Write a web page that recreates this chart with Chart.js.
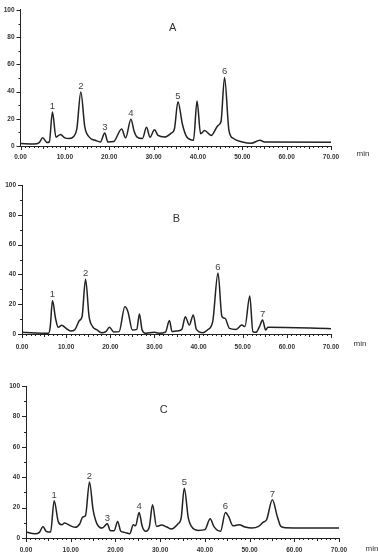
<!DOCTYPE html>
<html><head><meta charset="utf-8">
<script src="https://cdn.jsdelivr.net/npm/chart.js@4.4.1/dist/chart.umd.min.js"></script>
<style>
html,body{margin:0;padding:0;background:#fff;width:378px;height:555px;overflow:hidden;}
.p{position:absolute;left:0;width:378px;}
</style></head><body>
<div class="p" style="top:0;height:165px"><canvas id="cA"></canvas></div>
<div class="p" style="top:170px;height:190px"><canvas id="cB"></canvas></div>
<div class="p" style="top:370px;height:185px"><canvas id="cC"></canvas></div>
<script>
// ---- data (time in min, response) ----
const xTickLabels = ['0.00','10.00','20.00','30.00','40.00','50.00','60.00','70.00'];
const yTickLabels = ['0','20','40','60','80','100'];

const timeA = [0,3,4.2,5,6,6.5,7.2,8,9,10,11,12,12.7,13.6,14.5,15.5,17,18,19,19.7,21,22.8,23.7,24.9,25.6,26.3,27.5,28.4,29.2,30.2,31,32.5,34,34.7,35.5,36.5,37.5,39,39.8,40.6,41.5,43,44.5,45.2,46,47,48,50,52,54,55,70];
const valA  = [1.9,1.5,2.5,6,2.5,3,25,6.5,8.5,6,5.5,7,12.5,39.7,14,6.5,4,3,9.5,3,3.3,12.5,6,19.6,11,6.5,5.5,13.7,6.5,12,7.8,6.6,9.5,12.5,32.6,16,6.6,4.3,33,9,11.3,7.8,15,18,50.4,11.3,5.5,3,2,4.3,3,2.8];
const peakNumA = ['1','2','3','4','5','6'];
const peakTimeA = [7.2,13.6,19,24.9,35.5,46];
const peakValA = [25,39.7,9.5,19.6,32.6,50.4];

const timeB = [0,6,6.4,6.9,7.6,8.2,9,10,11,12,13,13.6,14.4,15.2,16,17,18,19,19.8,20.8,22,23.3,24,25,26,26.6,27.2,28,30,31,32.5,33.4,34,35,36.2,37,37.9,38.8,39.5,41,42,43.2,44.4,45.3,46,47,48.5,49.8,50.5,51.6,52.3,53,53.8,54.5,55.2,55.7,70];
const valB  = [1.1,0.5,5,22.4,10.5,4.5,5.8,3.8,2,3.1,9,11.6,36.7,11.6,5,2.7,0.9,1.6,4.5,1.3,1.6,18.3,15,2.7,3.1,13.4,2.7,0.5,1.1,0.5,1.3,9,1.6,2,3.1,11.6,6,12.8,3.1,0.9,2.7,8.3,41,11.6,10.5,3.8,3.1,6,5,25.5,1.6,1.1,5,9.4,2.7,4.5,3.6];
const peakNumB = ['1','2','6','7'];
const peakTimeB = [6.9,14.4,44.4,54.5];
const peakValB = [22.4,36.7,41,9.4];

const timeC = [0,2,3,3.8,4.5,5.5,6.3,7.2,8,8.6,10,11,12,12.7,13.3,14.2,15,15.8,17,18.2,18.8,19.7,20.5,21.2,22,23.2,24,24.5,25.3,26,26.8,27.6,28.3,29.2,30.3,31.5,32.5,34,34.7,35.4,36.3,37,38.5,40,41.2,42,43.5,44.6,45.3,46.3,47.7,49,50.5,52,53,53.8,55.1,56.2,57,58,70];
const valC  = [3.9,2.8,3.7,7.6,4.4,3.9,24.5,10.9,8.7,9.8,8,7,9.2,13.8,14.6,36.9,18.6,9.8,6.5,9.4,5,4.8,10.9,4.4,3.7,2.8,8.7,8,16.8,7.6,4.4,7.6,21.8,7.6,8.5,7.2,5.9,9.4,13.1,32.8,13.1,7.6,5,5.5,12.7,7.6,4.4,16.8,14.2,8,8.7,7.2,6.5,7.6,10.3,12,25.1,14.2,7.6,6.8,6.5];
const peakNumC = ['1','2','3','4','5','6','7'];
const peakTimeC = [6.3,14.2,18.2,25.3,35.4,44.6,55.1];
const peakValC = [24.5,36.9,9.4,16.8,32.8,16.8,25.1];

// ---- layout per panel (pixels) ----
const panels = [
  {id:'cA', title:'A', times:timeA, vals:valA, pn:peakNumA, pt:peakTimeA, pv:peakValA,
   yw:20.5, top:5, right:47, xh:19, xpad:7, title_fx:0.49, title_fy:0.135, minDx:32, minDy:8},
  {id:'cB', title:'B', times:timeB, vals:valB, pn:peakNumB, pt:peakTimeB, pv:peakValB,
   yw:22, top:15, right:47, xh:26, xpad:9, title_fx:0.50, title_fy:0.23, minDx:29, minDy:10},
  {id:'cC', title:'C', times:timeC, vals:valC, pn:peakNumC, pt:peakTimeC, pv:peakValC,
   yw:26, top:16, right:39, xh:17, xpad:8, title_fx:0.44, title_fy:0.16, minDx:33, minDy:11},
];

const INK = '#222';
const FONT = '"Liberation Sans", Arial, sans-serif';
const deco = {
  id:'deco',
  afterDraw(chart, args, o){
    const ctx = chart.ctx, x = chart.scales.x, y = chart.scales.y, a = chart.chartArea;
    ctx.save();
    ctx.strokeStyle = INK; ctx.lineWidth = 1;
    // x ticks (minor every 1 min)
    for (let t=0; t<=70; t++){
      const px = Math.round(x.getPixelForValue(t))+0.5;
      const len = t%10===0 ? 4 : (t%5===0 ? 3 : 2);
      ctx.beginPath(); ctx.moveTo(px, a.bottom); ctx.lineTo(px, a.bottom+len); ctx.stroke();
    }
    // y ticks
    for (let v=0; v<=100; v+=10){
      const py = Math.round(y.getPixelForValue(v))+0.5;
      const len = v%20===0 ? 4 : 2;
      ctx.beginPath(); ctx.moveTo(a.left-len, py); ctx.lineTo(a.left, py); ctx.stroke();
    }
    // peak numbers
    ctx.fillStyle = '#444';
    ctx.font = '9.5px ' + FONT;
    ctx.textAlign = 'center'; ctx.textBaseline = 'bottom';
    o.pn.forEach((s,i)=>{
      ctx.fillText(s, x.getPixelForValue(o.pt[i]), y.getPixelForValue(o.pv[i]) - 1);
    });
    // title letter
    ctx.fillStyle = '#333';
    ctx.font = '11px ' + FONT;
    ctx.textBaseline = 'middle';
    ctx.fillText(o.title, a.left + (a.right-a.left)*o.fx, a.top + (a.bottom-a.top)*o.fy);
    // unit
    ctx.font = '8px ' + FONT;
    ctx.fillStyle = '#333';
    ctx.textAlign = 'center';
    ctx.fillText('min', a.right + o.mdx, a.bottom + o.mdy);
    ctx.restore();
  }
};

panels.forEach(p=>{
  const pts = p.times.map((t,i)=>({x:t, y:p.vals[i]}));
  new Chart(document.getElementById(p.id), {
    type:'line',
    data:{datasets:[{data:pts, borderColor:INK, borderWidth:1.5, pointRadius:0, fill:false,
      cubicInterpolationMode:'monotone'}]},
    options:{
      responsive:true, maintainAspectRatio:false, animation:false,
      layout:{padding:{top:p.top, right:p.right, left:0, bottom:0}},
      plugins:{legend:{display:false}, tooltip:{enabled:false},
        deco:{pn:p.pn, pt:p.pt, pv:p.pv, title:p.title, fx:p.title_fx, fy:p.title_fy, mdx:p.minDx, mdy:p.minDy}},
      scales:{
        x:{type:'linear', min:0, max:70,
          afterBuildTicks(s){ s.ticks = xTickLabels.map((l,i)=>({value:i*10})); },
          ticks:{autoSkip:false, maxRotation:0, padding:p.xpad, color:'#333',
            font:{size:6.5, weight:'bold', family:FONT},
            callback:(v,i)=>xTickLabels[i]},
          grid:{display:false, drawTicks:false}, border:{display:true, color:INK, width:1},
          afterFit(s){ s.height = p.xh; }
        },
        y:{type:'linear', min:0, max:100,
          afterBuildTicks(s){ s.ticks = yTickLabels.map((l,i)=>({value:i*20})); },
          ticks:{autoSkip:false, padding:6, color:'#333',
            font:{size:6.5, weight:'bold', family:FONT},
            callback:(v,i)=>yTickLabels[i]},
          grid:{display:false, drawTicks:false}, border:{display:true, color:INK, width:1},
          afterFit(s){ s.width = p.yw; }
        }
      }
    },
    plugins:[deco]
  });
});
</script>
</body></html>
